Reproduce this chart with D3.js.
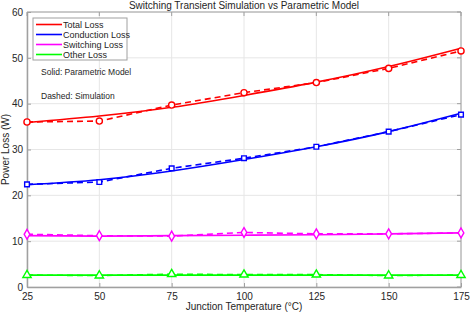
<!DOCTYPE html>
<html>
<head>
<meta charset="utf-8">
<script src="https://cdn.jsdelivr.net/npm/d3@7"></script>
<style>
  body { margin: 0; background: #fff; }
  text { font-family: "Liberation Sans", Arial, sans-serif; fill: #262626; }
</style>
</head>
<body>
<div id="chart"></div>
<script>
/**
 * DATA
 * */
const temps = [25, 50, 75, 100, 125, 150, 175];
const xTicks = [25, 50, 75, 100, 125, 150, 175];
const yTicks = [0, 10, 20, 30, 40, 50, 60];

// parametric model (solid)
const totalModel = [35.9, 37.3, 39.2, 41.8, 44.7, 48.1, 52.1];
const condModel = [22.3, 23.4, 25.3, 27.8, 30.6, 33.9, 37.9];
const swModel = [11.2, 11.1, 11.2, 11.3, 11.4, 11.6, 11.8];
const otherModel = [2.6, 2.6, 2.6, 2.6, 2.6, 2.6, 2.6];

// simulation (dashed)
const totalSim = [36.0, 36.2, 39.7, 42.4, 44.6, 47.7, 51.5];
const condSim = [22.4, 22.9, 25.9, 28.1, 30.6, 33.9, 37.6];
const swSim = [11.5, 11.2, 11.1, 11.9, 11.6, 11.6, 11.8];
const otherSim = [2.6, 2.5, 2.8, 2.7, 2.7, 2.5, 2.6];

const seriesNames = ["Total Loss", "Conduction Loss", "Switching Loss", "Other Loss"];
const seriesColors = ["#ff0000", "#0000ff", "#ff00ff", "#00ff00"];
const seriesMarkers = ["circle", "square", "diamond", "triangle"];

/**
 * CONSTANTS
 * */
const width = 470,
  height = 314,
  margin = { top: 12, bottom: 27, left: 27, right: 9 };

const svg = d3.select("#chart")
  .append("svg")
  .attr("width", width)
  .attr("height", height);

const xScale = d3.scaleLinear()
  .domain([25, 175])
  .range([margin.left, width - margin.right]);

const yScale = d3.scaleLinear()
  .domain([0, 60])
  .range([height - margin.bottom, margin.top]);

const plotTop = margin.top, plotBottom = height - margin.bottom;
const plotLeft = margin.left, plotRight = width - margin.right;

// GRID
svg.append("g")
  .selectAll("line.vgrid")
  .data(xTicks)
  .join("line")
  .attr("x1", d => xScale(d)).attr("x2", d => xScale(d))
  .attr("y1", plotTop).attr("y2", plotBottom)
  .attr("stroke", "#e6e6e6").attr("stroke-width", 1);

svg.append("g")
  .selectAll("line.hgrid")
  .data(yTicks)
  .join("line")
  .attr("y1", d => yScale(d)).attr("y2", d => yScale(d))
  .attr("x1", plotLeft).attr("x2", plotRight)
  .attr("stroke", "#e6e6e6").attr("stroke-width", 1);

// AXES
const xAxis = d3.axisBottom(xScale).tickValues(xTicks).tickSize(-4).tickSizeOuter(0);
const yAxis = d3.axisLeft(yScale).tickValues(yTicks).tickSize(-4).tickSizeOuter(0);

const gx = svg.append("g")
  .attr("transform", `translate(0,${plotBottom})`)
  .call(xAxis);
gx.select(".domain").attr("stroke", "#a0a0a0").attr("stroke-width", 1.5);
gx.selectAll(".tick line").attr("stroke", "#a0a0a0");
gx.selectAll(".tick text").attr("y", 6).attr("font-size", 10).attr("fill", "#262626");

const gy = svg.append("g")
  .attr("transform", `translate(${plotLeft},0)`)
  .call(yAxis);
gy.select(".domain").attr("stroke", "#a0a0a0").attr("stroke-width", 1.5);
gy.selectAll(".tick line").attr("stroke", "#a0a0a0");
gy.selectAll(".tick text").attr("x", -4).attr("font-size", 10).attr("fill", "#262626");

// top and right box edges with small ticks
svg.append("line")
  .attr("x1", plotLeft).attr("x2", plotRight).attr("y1", plotTop).attr("y2", plotTop)
  .attr("stroke", "#a0a0a0");
svg.append("line")
  .attr("x1", plotRight).attr("x2", plotRight).attr("y1", plotTop).attr("y2", plotBottom)
  .attr("stroke", "#a0a0a0");
svg.append("g")
  .selectAll("line")
  .data(yTicks)
  .join("line")
  .attr("x1", plotRight - 4).attr("x2", plotRight)
  .attr("y1", d => yScale(d)).attr("y2", d => yScale(d))
  .attr("stroke", "#a0a0a0");
svg.append("g")
  .selectAll("line")
  .data(xTicks)
  .join("line")
  .attr("x1", d => xScale(d)).attr("x2", d => xScale(d))
  .attr("y1", plotTop).attr("y2", plotTop + 4)
  .attr("stroke", "#a0a0a0");

// LABELS
svg.append("text")
  .attr("x", (plotLeft + plotRight) / 2).attr("y", 9)
  .attr("text-anchor", "middle").attr("font-size", 10)
  .text("Switching Transient Simulation vs Parametric Model");

svg.append("text")
  .attr("x", (plotLeft + plotRight) / 2).attr("y", 310)
  .attr("text-anchor", "middle").attr("font-size", 10)
  .text("Junction Temperature (°C)");

svg.append("text")
  .attr("transform", `translate(9,${(plotTop + plotBottom) / 2}) rotate(-90)`)
  .attr("text-anchor", "middle").attr("font-size", 10)
  .text("Power Loss (W)");

// LINES
const models = [totalModel, condModel, swModel, otherModel];
const sims = [totalSim, condSim, swSim, otherSim];

const line = d3.line()
  .x(d => xScale(d.t))
  .y(d => yScale(d.v));

const toPts = arr => temps.map((t, i) => ({ t: t, v: arr[i] }));

const symbolFor = {
  circle: d3.symbol().type(d3.symbolCircle).size(30),
  square: d3.symbol().type(d3.symbolSquare).size(22),
  diamond: d3.symbol().type(d3.symbolDiamond).size(28),
  triangle: d3.symbol().type(d3.symbolTriangle).size(30)
};

// draw bottom series first so Total sits on top
for (let i = seriesNames.length - 1; i >= 0; i--) {
  const col = seriesColors[i];
  const g = svg.append("g").attr("class", "series");

  g.append("path")
    .datum(toPts(models[i]))
    .attr("fill", "none")
    .attr("stroke", col)
    .attr("stroke-width", 1.6)
    .attr("d", line.curve(d3.curveNatural));

  g.append("path")
    .datum(toPts(sims[i]))
    .attr("fill", "none")
    .attr("stroke", col)
    .attr("stroke-width", 1.6)
    .attr("stroke-dasharray", "6,4")
    .attr("d", line.curve(d3.curveLinear));

  g.selectAll("path.marker")
    .data(toPts(sims[i]))
    .join("path")
    .attr("class", "marker")
    .attr("transform", d => `translate(${xScale(d.t)},${yScale(d.v)})`)
    .attr("d", symbolFor[seriesMarkers[i]]())
    .attr("fill", "white")
    .attr("stroke", col)
    .attr("stroke-width", 1.4);
}

// LEGEND
const legend = svg.append("g").attr("transform", "translate(33,18)");
legend.append("rect")
  .attr("width", 94).attr("height", 42)
  .attr("fill", "white").attr("stroke", "#a0a0a0").attr("stroke-width", 1);

legend.selectAll("g.entry")
  .data(seriesNames)
  .join("g")
  .attr("class", "entry")
  .attr("transform", (d, i) => `translate(0,${6.5 + i * 10})`)
  .each(function (d, i) {
    const e = d3.select(this);
    e.append("line")
      .attr("x1", 3).attr("x2", 29).attr("y1", 0).attr("y2", 0)
      .attr("stroke", seriesColors[i]).attr("stroke-width", 1.6);
    e.append("text")
      .attr("x", 30).attr("y", 0).attr("dy", "0.35em")
      .attr("font-size", 9)
      .text(d);
  });

// NOTES
svg.append("text").attr("x", 41).attr("y", 75).attr("font-size", 8.5)
  .text("Solid: Parametric Model");
svg.append("text").attr("x", 41).attr("y", 99).attr("font-size", 8.5)
  .text("Dashed: Simulation");
</script>
</body>
</html>
